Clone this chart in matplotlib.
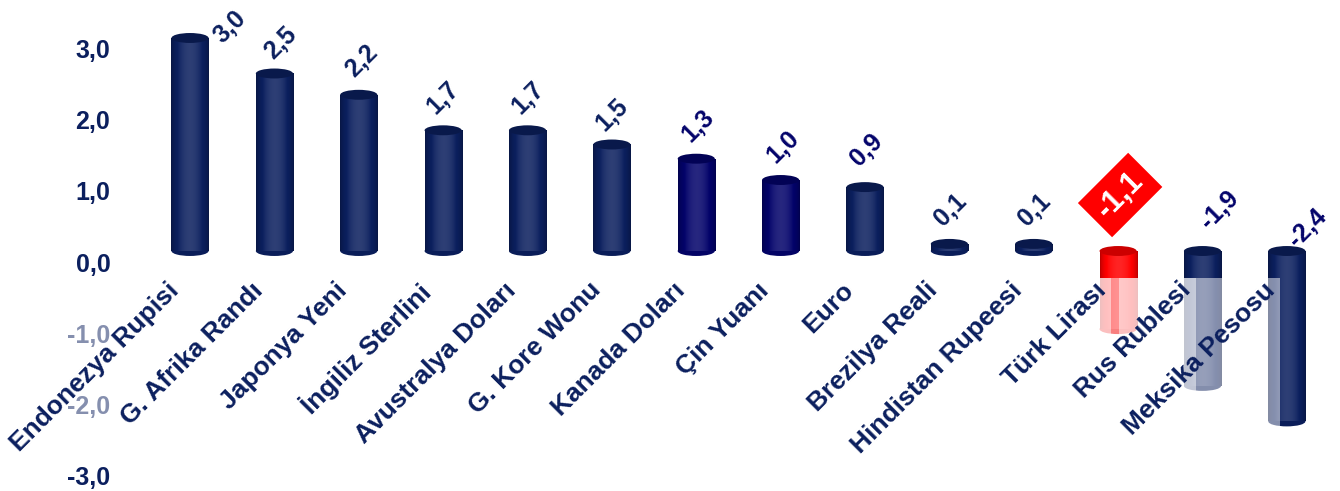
import matplotlib
matplotlib.use("Agg")
import matplotlib.pyplot as plt
import numpy as np
from matplotlib.patches import Ellipse, Rectangle
import matplotlib.transforms as mtransforms
from matplotlib.colors import to_rgb

# ---------------- data ----------------
categories = ["Endonezya Rupisi", "G. Afrika Randı", "Japonya Yeni", "İngiliz Sterlini",
              "Avustralya Doları", "G. Kore Wonu", "Kanada Doları", "Çin Yuanı", "Euro",
              "Brezilya Reali", "Hindistan Rupeesi", "Türk Lirası", "Rus Rublesi",
              "Meksika Pesosu"]
values = [3.0, 2.5, 2.2, 1.7, 1.7, 1.5, 1.3, 1.0, 0.9, 0.1, 0.1, -1.1, -1.9, -2.4]
value_labels = ["3,0", "2,5", "2,2", "1,7", "1,7", "1,5", "1,3", "1,0", "0,9",
                "0,1", "0,1", "-1,1", "-1,9", "-2,4"]
yticks = [-3, -2, -1, 0, 1, 2, 3]
ytick_labels = ["-3,0", "-2,0", "-1,0", "0,0", "1,0", "2,0", "3,0"]
highlight = "Türk Lirası"

# ---------------- style ----------------
NAVY = "#0b1f5e"
DEEP = "#03036a"
RED = "#ff0000"
bar_colors = [NAVY, NAVY, NAVY, NAVY, NAVY, NAVY, DEEP, DEEP, NAVY, NAVY, NAVY, RED, NAVY, NAVY]
label_colors = [NAVY, NAVY, NAVY, NAVY, NAVY, NAVY, DEEP, DEEP, DEEP, NAVY, NAVY, "white", DEEP, DEEP]
# value-label offsets in pixels (dx, dy) from the bar end (positive) or from zero (negative)
label_offsets = [(40, 11), (6, 31), (3, 34), (0, 32), (0, 32), (0, 30), (2, 33), (2, 33),
                 (2, 37), (1, 34), (1, 34), (2, 56), (17, 41), (21, 23)]
FONT = "Liberation Sans"
W = 0.44           # bar width (data units)
CAP = 0.14         # ellipse height (data units)

fig = plt.figure(figsize=(13.4, 4.91), dpi=100)
fig.patch.set_facecolor("white")
ax = fig.add_axes([120 / 1340, 0, 1 - 120 / 1340, 1])
ax.set_facecolor("white")
for s in ax.spines.values():
    s.set_visible(False)

x = np.arange(len(categories))
XLIM = (-0.83, 13.63)
YLIM = (-3.38, 3.535)

bars = ax.bar(x, values, width=W, color=bar_colors, zorder=2, linewidth=0)


def shade(col, f):
    c = np.array(to_rgb(col))
    if f <= 1:
        return c * f
    return c + (1 - c) * (f - 1)


t = np.linspace(0, 1, 60)
prof = 0.72 + 0.42 * np.sin(np.pi * t) ** 0.6
for xi, v, col, b in zip(x, values, bar_colors, bars):
    img = np.array([[shade(col, f) for f in prof]])
    im = ax.imshow(img, extent=[xi - W / 2, xi + W / 2, min(0, v), max(0, v)],
                   aspect="auto", zorder=2.05, interpolation="bilinear")
    im.set_clip_path(b)
    lo, hi = min(0, v), max(0, v)
    ax.add_patch(Ellipse((xi, lo), W, CAP, color=shade(col, 0.95), zorder=2.02, lw=0))
    ax.add_patch(Ellipse((xi, hi), W, CAP, color=shade(col, 0.8), zorder=2.2, lw=0))

ax.set_xlim(*XLIM)
ax.set_ylim(*YLIM)
ax.set_xticks([])
ax.set_yticks(yticks, ytick_labels)
ax.tick_params(axis="y", length=0, pad=7)
shift = mtransforms.ScaledTranslation(0, -11 / 100, fig.dpi_scale_trans)
for lab in ax.get_yticklabels():
    lab.set_fontsize(18)
    lab.set_fontweight("bold")
    lab.set_color(NAVY)
    lab.set_family(FONT)
    lab.set_transform(lab.get_transform() + shift)

# value labels
for xi, v, txt, col, (dx, dy), cat in zip(x, values, value_labels, label_colors,
                                          label_offsets, categories):
    base = v if v > 0 else 0
    kw = {}
    size = 18
    if cat == highlight:
        kw["bbox"] = dict(boxstyle="square,pad=0.3", fc=RED, ec="none")
        size = 22
    ax.annotate(txt, (xi, base), xytext=(dx * 0.72, dy * 0.72), textcoords="offset points",
                ha="center", va="center", rotation=45, fontsize=size, fontweight="bold",
                color=col, family=FONT, zorder=5, **kw)

# category labels
cat_texts = []
for xi, cat in zip(x, categories):
    t_ = ax.text(xi - 0.08, -0.38, cat, rotation=45, ha="right", va="top",
                 fontsize=19, fontweight="bold", color=NAVY, family=FONT, zorder=4)
    cat_texts.append(t_)

fig.canvas.draw()
renderer = fig.canvas.get_renderer()
inv = ax.transData.inverted()
for t_ in cat_texts:
    bb = t_.get_window_extent(renderer)
    (x0, y0), (x1, y1) = inv.transform([[bb.x0, bb.y0], [bb.x1, bb.y1]])
    ax.add_patch(Rectangle((x0, y0), x1 - x0, y1 - y0, fc="white", ec="none",
                           alpha=0.5, zorder=3, clip_on=False))

fig.savefig("out.png", dpi=100, facecolor="white")
